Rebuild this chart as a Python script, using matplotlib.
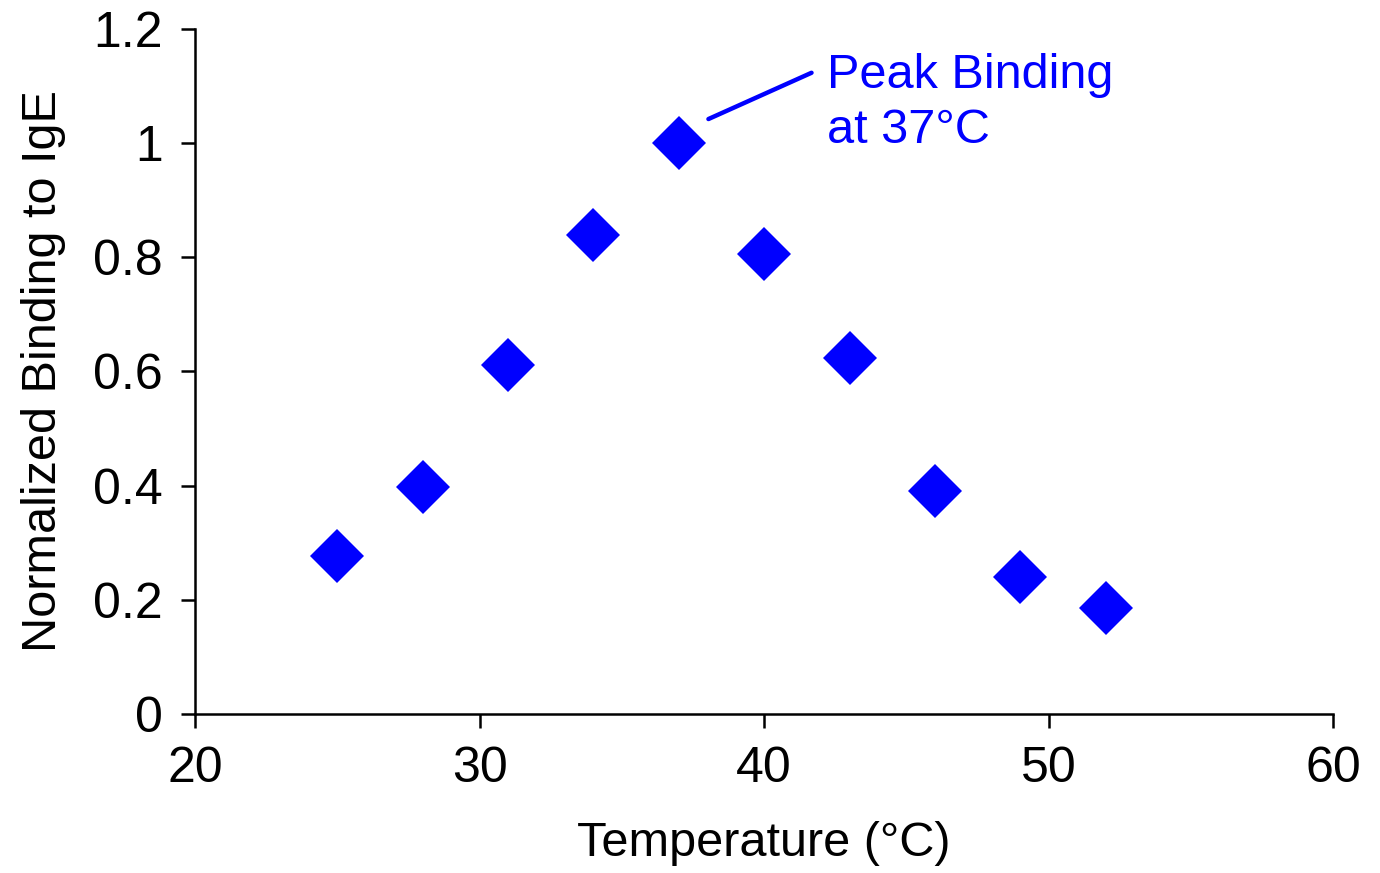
import matplotlib.pyplot as plt

temps = [25, 28, 31, 34, 37, 40, 43, 46, 49, 52]
binding = [0.277, 0.398, 0.611, 0.839, 1.0, 0.806, 0.624, 0.391, 0.240, 0.186]
xticks = [20, 30, 40, 50, 60]
yticks = [0, 0.2, 0.4, 0.6, 0.8, 1, 1.2]
ylabels = ["0", "0.2", "0.4", "0.6", "0.8", "1", "1.2"]

plt.rcParams['font.family'] = ['Liberation Sans', 'DejaVu Sans']
blue = '#0000ff'

fig = plt.figure(figsize=(13.8, 8.73), dpi=100)
ax = fig.add_axes([0.1413, 0.182, 0.825, 0.785])

ax.plot(temps, binding, 'D', color=blue, markersize=27, markeredgewidth=0)

ax.set_xlim(20, 60)
ax.set_ylim(0, 1.2)
ax.set_xticks(xticks)
ax.set_yticks(yticks)
ax.set_yticklabels(ylabels)
for s in ['top', 'right']:
    ax.spines[s].set_visible(False)
for s in ['left', 'bottom']:
    ax.spines[s].set_linewidth(1.8)
ax.tick_params(direction='out', length=10, width=1.8, labelsize=36)
ax.tick_params(axis='x', pad=13)
ax.tick_params(axis='y', pad=13)

ax.set_xlabel('Temperature (°C)', fontsize=35, labelpad=21)
ax.set_ylabel('Normalized Binding to IgE', fontsize=35, labelpad=20)

# callout for the peak
ax.annotate('', xy=(37.95, 1.04), xytext=(41.75, 1.125),
            arrowprops=dict(arrowstyle='-', color=blue, lw=3.2))
ax.text(42.2, 1.158, 'Peak Binding\nat 37°C', color=blue, fontsize=35,
        ha='left', va='top', linespacing=1.3)

fig.savefig('out.png', dpi=100)
